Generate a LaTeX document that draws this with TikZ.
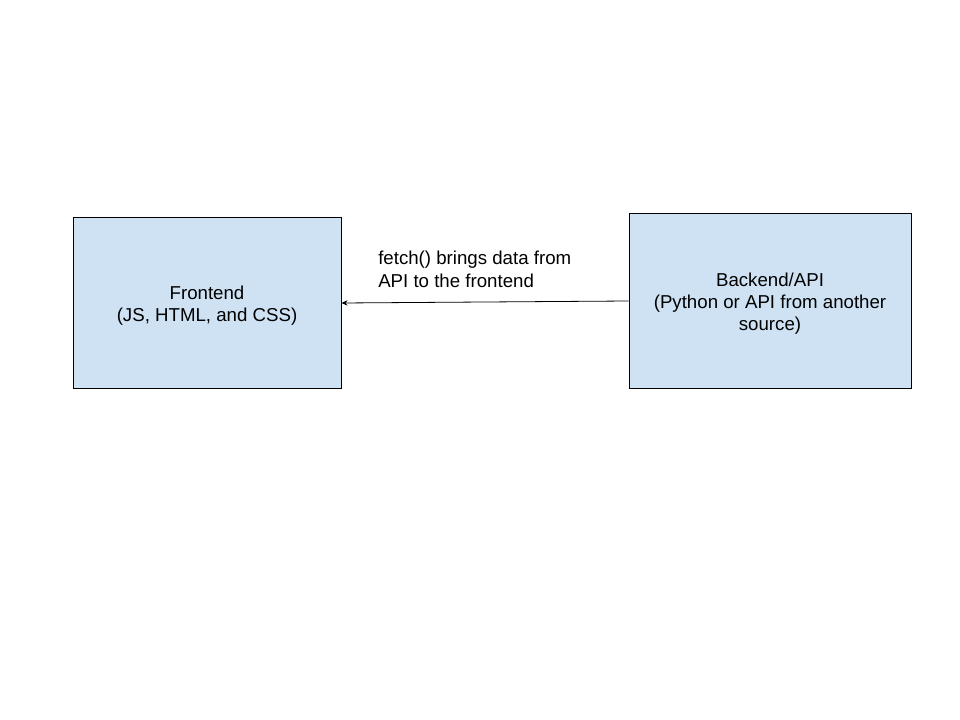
\documentclass[tikz,border=0pt]{standalone}
\usepackage{fontspec}
\setmainfont{Liberation Sans}
\usetikzlibrary{arrows.meta}
\definecolor{boxfill}{HTML}{CFE2F3}
\begin{document}
\begin{tikzpicture}[x=0.75pt,y=-0.75pt,
  box/.style={draw=black,fill=boxfill,line width=0.75pt,inner sep=0pt},
  boxtext/.style={align=center,inner sep=0pt,font=\fontsize{14pt}{16.5pt}\selectfont},
  lbl/.style={align=left,inner sep=0pt,font=\fontsize{14pt}{17.2pt}\selectfont},
  conn/.style={draw=black,line width=0.6pt,-{Stealth[length=4.5pt,width=4pt]}}]
\useasboundingbox (0,0) rectangle (960,720);
\node[box,minimum width=268*0.75pt,minimum height=170*0.75pt] (front) at (207,303) {};
\node[boxtext] (fronttext) at (207,306) {Frontend\\(JS, HTML, and CSS)};
\node[box,minimum width=282*0.75pt,minimum height=174*0.75pt] (back) at (770,301) {};
\node[boxtext] (backtext) at (770,304) {Backend/API\\(Python or API from another\\source)};
\node[lbl,anchor=north west] (lab) at (378,251) {fetch() brings data from\\API to the frontend};
\draw[conn] (back.west) -- (front.east);
\end{tikzpicture}
\end{document}
